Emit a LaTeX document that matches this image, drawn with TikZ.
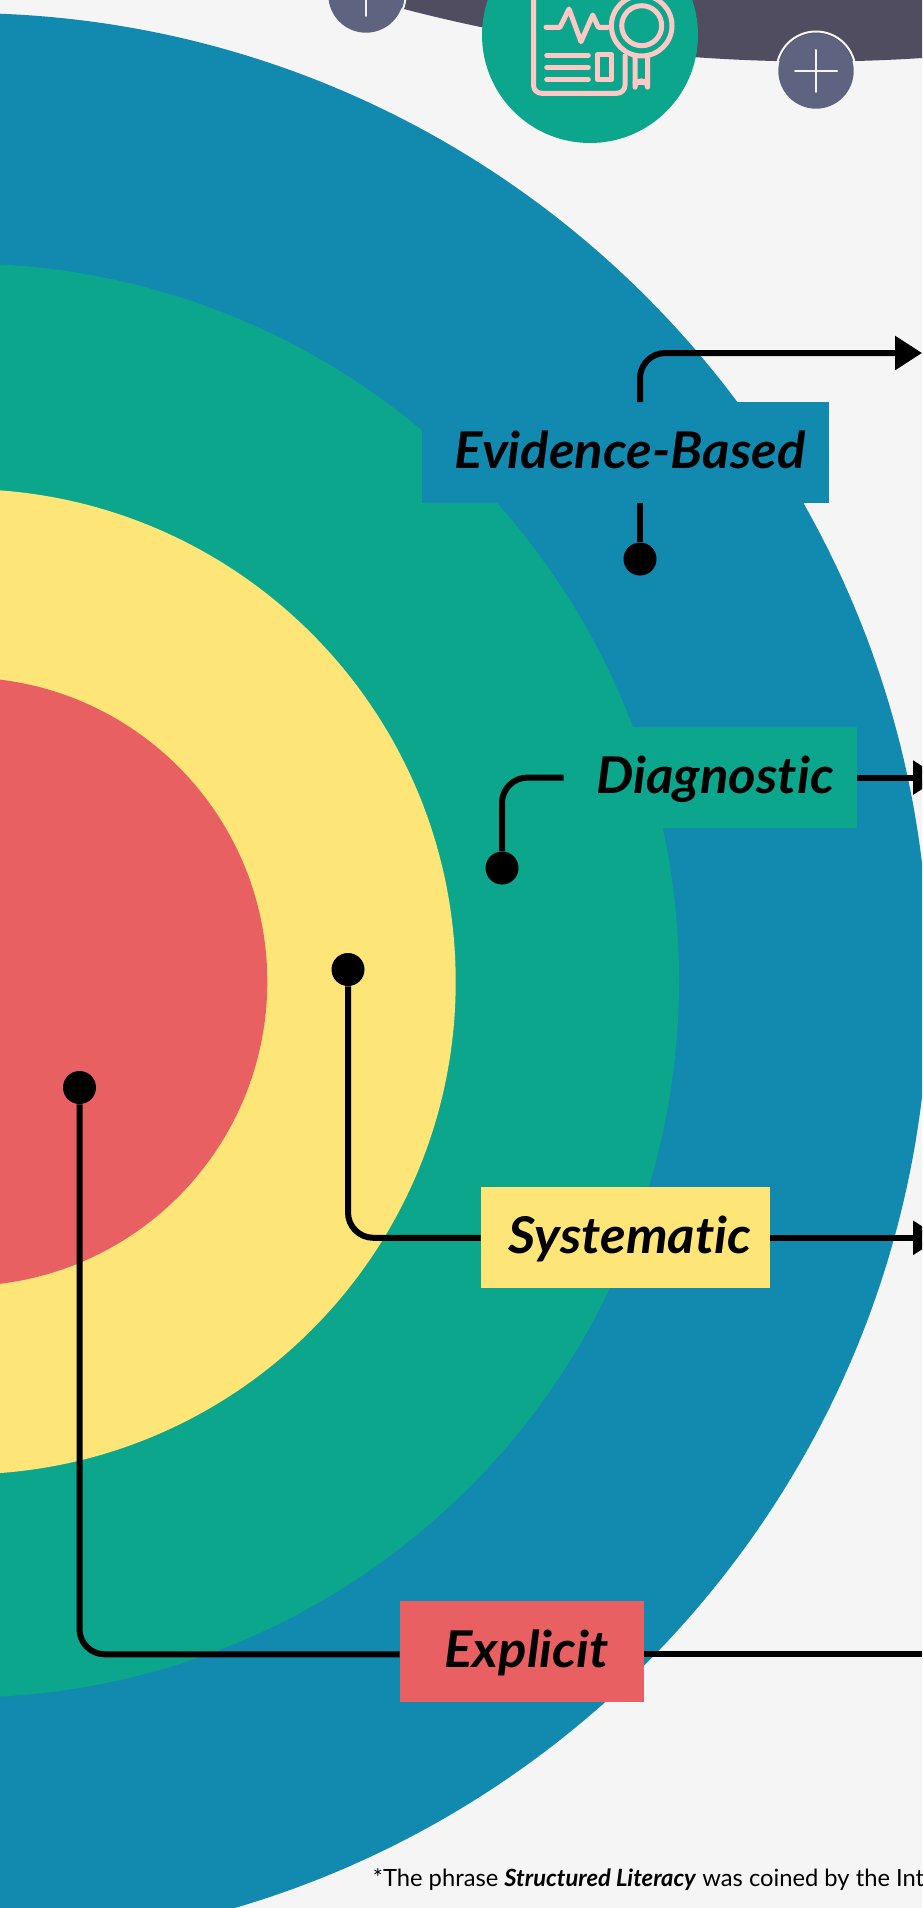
\documentclass[tikz,border=0pt]{standalone}
\usepackage{fontspec}
\setmainfont{Lato}
\newfontfamily\labelfont[FakeStretch=1.04,Ligatures=NoCommon]{Lato}
\usetikzlibrary{arrows.meta}

\definecolor{pagebg}{HTML}{F5F5F5}
\definecolor{ringblue}{HTML}{128AB0}
\definecolor{ringgreen}{HTML}{0CA68C}
\definecolor{ringyellow}{HTML}{FDE677}
\definecolor{ringred}{HTML}{E96062}
\definecolor{banddark}{HTML}{4F4D5F}
\definecolor{buttongrey}{HTML}{5E6480}
\definecolor{iconpink}{HTML}{FCC9C6}

\tikzset{
  labelbox/.style={inner sep=0pt, minimum height=75.5pt, text height=32pt,
    text depth=8pt, font=\labelfont\fontsize{38pt}{40pt}\selectfont\bfseries\itshape},
  pindot/.style={circle, fill=black, inner sep=0pt, minimum size=24.75pt},
  link/.style={draw=black, line width=4.5pt, rounded corners=19pt},
  linkarrow/.style={link, -{Triangle[length=20.25pt, width=24.75pt]}},
  iconline/.style={draw=iconpink, line width=3.75pt, line cap=round, line join=round},
  plusline/.style={draw=pagebg, line width=1.5pt, line cap=round}
}

\begin{document}
\begin{tikzpicture}[x=0.75pt, y=-0.75pt]
  \useasboundingbox (0,0) rectangle (922,1908);
  \clip (0,0) rectangle (922,1908);
  \fill [pagebg] (0,0) rectangle (922,1908);

  % Header band with its buttons and badge

  \fill [banddark] (815,-1561.5) circle (1623);
  \fill [buttongrey] (366,-5) circle (37.7);
  \draw [pagebg, line width=1.5pt] (366,-5) circle (39.5);
  \draw [plusline] (366,-30) -- (366,16);
  \fill [buttongrey] (816,71) circle (37.7);
  \draw [pagebg, line width=1.5pt] (816,71) circle (39.5);
  \draw [plusline] (795,71) -- (837,71);
  \draw [plusline] (816,50) -- (816,92);
  \fill [ringgreen] (590,35) circle (108);

  % Badge icon: report and magnifier

  \draw [iconline] (533.5,-10) -- (533.5,85.3) arc (180:90:8) -- (617,93.3) arc (90:0:8) -- (625,56);
  \draw [iconline] (546,27.3) -- (560,27.3) -- (569,9) -- (581,41.7) -- (592.7,15) -- (598.3,27.3) -- (608,27.3);
  \draw [iconline] (546.7,55.3) -- (588.3,55.3);
  \draw [iconline] (546.7,67.3) -- (588.3,67.3);
  \draw [iconline] (546.7,79.3) -- (588.3,79.3);
  \draw [iconline] (597,55) rectangle (611.7,79.7);
  \draw [iconline] (641.7,25.7) circle (30.3);
  \draw [iconline] (641.7,25.7) circle (20);
  \draw [iconline] (635,57) -- (635,87.2) arc (180:360:6.25) -- (647.5,57);
  \draw [iconline] (635,82.5) -- (647.5,82.5);

  % Target rings, outermost first

  \fill [ringblue] (-38,980) circle (967);
  \fill [ringgreen] (-38,980.5) circle (717);
  \fill [ringyellow] (-37,981.7) circle (492.7);
  \fill [ringred] (-37,981.7) circle (304.3);

  % Labels over the rings

  \node [labelbox, fill=ringblue, minimum width=305.25pt] (evidence) at (625.5,452.6)
    {\hspace*{7pt}Evidence-Based};
  \node [labelbox, fill=ringgreen, minimum width=219.75pt] (diagnostic) at (710.5,777.6)
    {\hspace*{7pt}Diagnostic};
  \node [labelbox, fill=ringyellow, minimum width=216.9pt] (systematic) at (625.4,1237.8)
    {\hspace*{7pt}Systematic};
  \node [labelbox, fill=ringred, minimum width=183.2pt] (explicit) at (521.9,1651.3)
    {\hspace*{7pt}Explicit};

  % Pins inside the rings

  \node [pindot] (evidencepin) at (640,559) {};
  \node [pindot] (diagnosticpin) at (502,868) {};
  \node [pindot] (systematicpin) at (348,969.5) {};
  \node [pindot] (explicitpin) at (79.5,1087.5) {};

  % Free ends beyond the right edge

  \coordinate (evidenceend) at (922,353);
  \coordinate (diagnosticend) at (940,777.6);
  \coordinate (systematicend) at (940,1237.8);
  \coordinate (explicitend) at (922,1654.3);

  % Connections from pins to labels and on to the edge

  \draw [link] (evidencepin) -- (evidencepin |- evidence.south);
  \draw [linkarrow] (evidencepin |- evidence.north) |- (evidenceend);
  \draw [link] (diagnosticpin) |- (diagnostic.west);
  \draw [linkarrow] (diagnostic.east) -- (diagnosticend);
  \draw [link] (systematicpin) |- (systematic.west);
  \draw [linkarrow] (systematic.east) -- (systematicend);
  \draw [link] (explicitpin) |- (explicit.west |- explicitend);
  \draw [link] (explicit.east |- explicitend) -- (explicitend);

  % Footnote

  \node [anchor=base west, inner sep=0pt, font=\fontsize{17.8pt}{20pt}\selectfont] (footnote) at (372.7,1886.7)
    {*The phrase \textbf{\textit{Structured Literacy}} was coined by the Int};
\end{tikzpicture}
\end{document}
